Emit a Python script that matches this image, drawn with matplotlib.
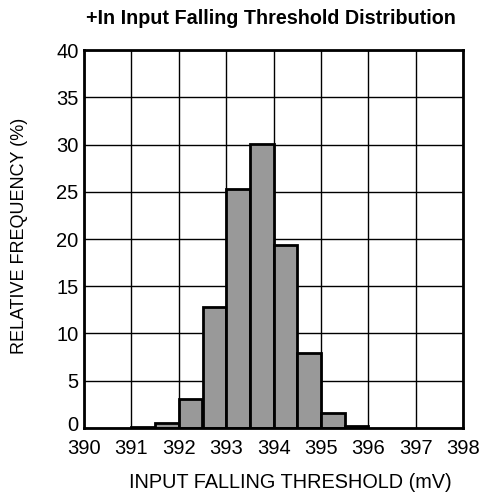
import matplotlib
matplotlib.use("Agg")
import matplotlib.pyplot as plt
import matplotlib.transforms as mtransforms

plt.rcParams['font.family'] = ['Liberation Sans', 'DejaVu Sans']

# bin left edges (mV), width 0.5
bin_left = [391.0, 391.5, 392.0, 392.5, 393.0, 393.5, 394.0, 394.5, 395.0, 395.5]
freq = [0.1, 0.5, 3.1, 12.8, 25.3, 30.1, 19.4, 7.9, 1.6, 0.2]
bin_width = 0.5

fig = plt.figure(figsize=(4.8, 4.97), dpi=100)
ax = fig.add_axes([0.175, 0.139, 0.79, 0.76])

ax.bar(bin_left, freq, width=bin_width, align="edge", color="#999999",
       edgecolor="black", linewidth=2, zorder=3)

ax.set_xlim(390, 398)
ax.set_ylim(0, 40)
ax.set_xticks(range(390, 399))
ax.set_yticks(range(0, 41, 5))
ax.grid(True, color="black", linewidth=1)
ax.tick_params(length=0, labelsize=14.5)
ax.tick_params(axis="y", pad=4)
ax.tick_params(axis="x", pad=8)
for s in ax.spines.values():
    s.set_linewidth(2)
    s.set_zorder(4)

# nudge the "0" label up a bit so it clears "390"
lbl0 = ax.get_yticklabels()[0]
lbl0.set_transform(lbl0.get_transform() +
                   mtransforms.ScaledTranslation(0, 3 / 72, fig.dpi_scale_trans))

fig.text(290 / 480, 1 - 483 / 497, "INPUT FALLING THRESHOLD (mV)",
         fontsize=14.3, ha="center", va="center")
fig.text(20 / 480, 1 - 236 / 497, "RELATIVE FREQUENCY (%)",
         fontsize=13, ha="center", va="center", rotation=90)
fig.text(271 / 480, 1 - 19 / 497, "+In Input Falling Threshold Distribution",
         fontsize=14.2, fontweight="bold", ha="center", va="center")

fig.savefig("out.png", dpi=100)
